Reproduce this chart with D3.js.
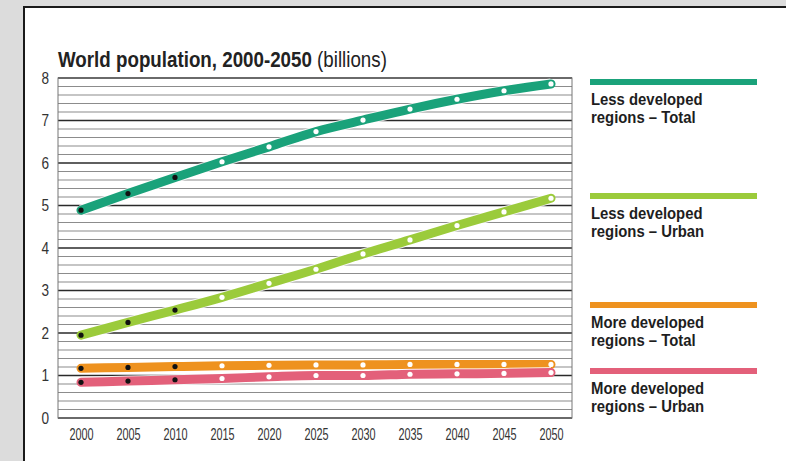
<!doctype html>
<html lang="en">
<head>
  <meta charset="utf-8">
  <title>World population, 2000-2050</title>
  <script src="https://cdn.jsdelivr.net/npm/d3@7"></script>
  <style>
    html, body { margin: 0; padding: 0; background: #dcdcdc; }
    svg { display: block; }
    text { font-family: "Liberation Sans", Arial, sans-serif; }
  </style>
</head>
<body>
<div id="chart"></div>
<script>
  // Data (billions)
  const years = [2000, 2005, 2010, 2015, 2020, 2025, 2030, 2035, 2040, 2045, 2050];
  const lessTotal = [4.89, 5.28, 5.66, 6.03, 6.38, 6.74, 7.01, 7.27, 7.5, 7.7, 7.86];
  const lessUrban = [1.95, 2.25, 2.54, 2.84, 3.17, 3.5, 3.86, 4.19, 4.53, 4.85, 5.17];
  const moreTotal = [1.17, 1.19, 1.21, 1.23, 1.24, 1.25, 1.25, 1.26, 1.26, 1.26, 1.26];
  const moreUrban = [0.84, 0.87, 0.9, 0.93, 0.97, 1.0, 1.0, 1.03, 1.04, 1.05, 1.07];
  const lastObserved = 2010;
  const yTicks = [0, 1, 2, 3, 4, 5, 6, 7, 8];

  const series = [
    { name: ['Less developed', 'regions \u2013 Total'], values: lessTotal, color: '#1aa27a', legendY: 82 },
    { name: ['Less developed', 'regions \u2013 Urban'], values: lessUrban, color: '#9bcb3b', legendY: 196 },
    { name: ['More developed', 'regions \u2013 Total'], values: moreTotal, color: '#ee921f', legendY: 305 },
    { name: ['More developed', 'regions \u2013 Urban'], values: moreUrban, color: '#e3607a', legendY: 371 }
  ];

  const W = 786, H = 461;
  const plot = { left: 58, right: 572, top: 78, bottom: 418 };

  // squeeze text horizontally to mimic the condensed face
  function condense(sel, k) {
    sel.each(function() {
      const t = d3.select(this);
      const x0 = +t.attr('x') || 0;
      t.attr('x', x0 / k).attr('transform', `scale(${k},1)`);
    });
  }

  const svg = d3.select('#chart').append('svg')
    .attr('width', W)
    .attr('height', H);

  // white panel
  svg.append('rect')
    .attr('x', 24).attr('y', 7)
    .attr('width', W + 20).attr('height', H + 20)
    .attr('fill', '#fff')
    .attr('stroke', '#1a1a1a')
    .attr('stroke-width', 2);

  const x = d3.scaleLinear().domain([2000, 2050]).range([81, 551]);
  const y = d3.scaleLinear().domain([0, 8]).range([plot.bottom, plot.top]);

  // grid lines every 0.2
  const isMajor = d => Math.abs(d - Math.round(d)) < 1e-6;
  svg.append('g').selectAll('line')
    .data(d3.range(0, 8.001, 0.2))
    .join('line')
    .attr('x1', plot.left).attr('x2', plot.right)
    .attr('y1', d => y(d)).attr('y2', d => y(d))
    .attr('stroke', d => isMajor(d) ? '#2a2a2a' : '#8c8c8c')
    .attr('stroke-width', d => isMajor(d) ? 1.5 : 1.1);

  // frame
  svg.append('rect')
    .attr('x', plot.left).attr('y', plot.top)
    .attr('width', plot.right - plot.left).attr('height', plot.bottom - plot.top)
    .attr('fill', 'none')
    .attr('stroke', '#777')
    .attr('stroke-width', 1);

  // y axis labels
  const gy = svg.append('g')
    .attr('transform', `translate(${plot.left},0)`)
    .call(d3.axisLeft(y).tickValues(yTicks).tickSize(0).tickPadding(9));
  gy.select('.domain').remove();
  gy.selectAll('text')
    .attr('font-family', null)
    .attr('font-size', 17)
    .attr('fill', '#333')
    .call(condense, 0.8);

  // x axis labels
  const gx = svg.append('g')
    .attr('transform', `translate(0,${plot.bottom})`)
    .call(d3.axisBottom(x).tickValues(years).tickFormat(d3.format('d')).tickSize(0).tickPadding(11));
  gx.select('.domain').remove();
  gx.selectAll('text')
    .attr('font-family', null)
    .attr('font-size', 16)
    .attr('fill', '#333')
    .call(condense, 0.68);

  const line = d3.line()
    .x((d, i) => x(years[i]))
    .y(d => y(d))
    .curve(d3.curveMonotoneX);

  series.forEach(s => {
    svg.append('path')
      .attr('d', line(s.values))
      .attr('fill', 'none')
      .attr('stroke', '#fff')
      .attr('stroke-opacity', 0.8)
      .attr('stroke-width', 11)
      .attr('stroke-linecap', 'butt');
    svg.append('path')
      .attr('d', line(s.values))
      .attr('fill', 'none')
      .attr('stroke', s.color)
      .attr('stroke-width', 9)
      .attr('stroke-linecap', 'round');
    svg.append('g').selectAll('circle')
      .data(s.values)
      .join('circle')
      .attr('cx', (d, i) => x(years[i]))
      .attr('cy', d => y(d))
      .attr('r', 2.6)
      .attr('fill', (d, i) => years[i] <= lastObserved ? '#111' : '#fff');
  });

  // title
  const title = svg.append('text')
    .attr('x', 58).attr('y', 67)
    .attr('font-size', 22)
    .attr('fill', '#222');
  title.append('tspan').attr('font-weight', 'bold').text('World population, 2000-2050');
  title.append('tspan').attr('font-weight', 'normal').text(' (billions)');
  const tk = 329 / title.node().getComputedTextLength();
  title.call(condense, tk);

  // legend
  const lg = svg.append('g');
  series.forEach(s => {
    lg.append('line')
      .attr('x1', 590).attr('x2', 757)
      .attr('y1', s.legendY).attr('y2', s.legendY)
      .attr('stroke', s.color)
      .attr('stroke-width', 6);
    s.name.forEach((t, j) => {
      lg.append('text')
        .attr('x', 591)
        .attr('y', s.legendY + 23 + j * 18.5)
        .attr('font-size', 16)
        .attr('font-weight', 'bold')
        .attr('fill', '#1e1e1e')
        .text(t)
        .call(condense, 0.93);
    });
  });
</script>
</body>
</html>
